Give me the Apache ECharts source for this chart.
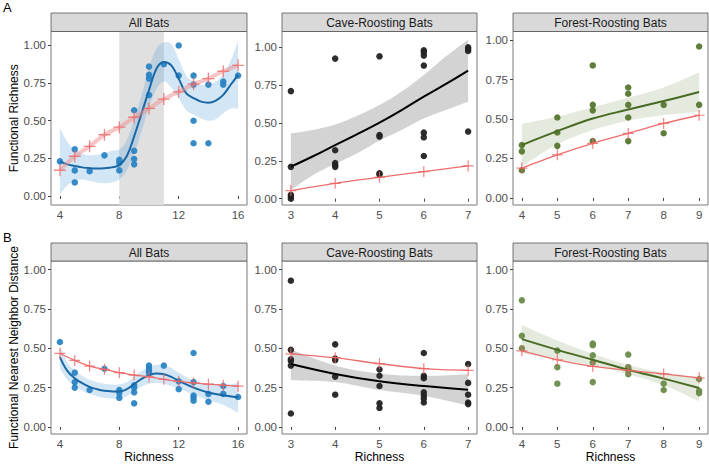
<!DOCTYPE html>
<html><head><meta charset="utf-8">
<script src="https://cdn.jsdelivr.net/npm/echarts@6/dist/echarts.min.js"></script>
<style>html,body{margin:0;padding:0;background:#fff}#c{width:709px;height:464px}</style>
</head><body><div id="c"></div>
<script>
// ---------- text ----------
const stripTitles = ['All Bats', 'Cave-Roosting Bats', 'Forest-Roosting Bats'];
const rowLabels = ['A', 'B'];
const yTitles = ['Functional Richness', 'Functional Nearest Neighbor Distance'];
const xTitle = 'Richness';

// ---------- tick values ----------
const yTicks = [0, 0.25, 0.5, 0.75, 1];
const xTicksAll = [4, 8, 12, 16];
const xTicksCave = [3, 4, 5, 6, 7];
const xTicksForest = [4, 5, 6, 7, 8, 9];

// ---------- A: Functional Richness ----------
// All bats
const a1Points = [[4,0.23],[5,0.31],[5,0.17],[5,0.09],[6,0.165],[7,0.27],[8,0.24],[8,0.22],[8,0.17],[9,0.57],[9,0.30],[9,0.245],[9,0.21],[10,0.86],[10,0.805],[10,0.78],[10,0.67],[11,0.875],[12,1.0],[12,0.80],[13,0.80],[13,0.74],[13,0.50],[13,0.35],[14,0.74],[14,0.35],[15,0.76],[15,0.74],[16,0.80]];
const a1FitX = [4,4.5,5,5.5,6,6.5,7,7.5,8,8.5,9,9.5,10,10.5,11,11.5,12,12.5,13,13.5,14,14.5,15,15.5,16];
const a1Fit  = [0.23,0.21,0.20,0.19,0.185,0.183,0.185,0.19,0.205,0.264,0.396,0.549,0.703,0.846,0.89,0.868,0.78,0.683,0.65,0.627,0.62,0.634,0.672,0.739,0.805];
const a1Lo   = [0.01,0.07,0.10,0.11,0.10,0.09,0.085,0.09,0.11,0.17,0.28,0.43,0.59,0.71,0.76,0.72,0.65,0.57,0.54,0.515,0.50,0.51,0.55,0.58,0.58];
const a1Hi   = [0.45,0.36,0.31,0.28,0.27,0.275,0.285,0.30,0.31,0.37,0.51,0.67,0.85,0.98,1.02,1.01,0.91,0.80,0.76,0.74,0.74,0.76,0.81,0.90,1.03];
const a1NullX = [4,5,6,7,8,9,10,11,12,13,14,15,16];
const a1Null  = [0.171,0.264,0.33,0.407,0.457,0.523,0.582,0.644,0.692,0.743,0.78,0.829,0.868];
const a1ShadeRange = [8, 11];
// Cave-roosting
const a2Points = [[3,0.71],[3,0.21],[3,0.025],[3,0.013],[3,0.0],[4,0.925],[4,0.32],[4,0.235],[4,0.22],[4,0.21],[5,0.94],[5,0.42],[5,0.41],[5,0.167],[5,0.16],[6,0.98],[6,0.967],[6,0.945],[6,0.879],[6,0.436],[6,0.405],[6,0.282],[7,1.0],[7,0.989],[7,0.976],[7,0.443]];
const a2FitX = [3,3.5,4,4.5,5,5.5,6,6.5,7];
const a2Fit  = [0.211,0.28,0.354,0.426,0.502,0.585,0.674,0.758,0.846];
const a2Lo   = [0.057,0.156,0.23,0.30,0.383,0.454,0.53,0.586,0.64];
const a2Hi   = [0.43,0.454,0.49,0.548,0.619,0.707,0.817,0.94,1.05];
const a2NullX = [3,4,5,6,7];
const a2Null  = [0.053,0.101,0.141,0.178,0.216];
// Forest-roosting
const a3Points = [[4,0.335],[4,0.295],[4,0.175],[5,0.51],[5,0.415],[5,0.33],[6,0.84],[6,0.59],[6,0.555],[6,0.36],[7,0.70],[7,0.66],[7,0.59],[7,0.51],[7,0.36],[8,0.59],[8,0.41],[9,0.96],[9,0.59]];
const a3FitX = [4,5,6,7,8,9];
const a3Fit  = [0.335,0.423,0.503,0.56,0.614,0.671];
const a3Lo   = [0.20,0.34,0.43,0.49,0.525,0.545];
const a3Hi   = [0.47,0.515,0.575,0.635,0.70,0.797];
const a3NullX = [4,5,6,7,8,9];
const a3Null  = [0.189,0.273,0.346,0.409,0.472,0.524];

// ---------- B: Functional Nearest Neighbor Distance ----------
const b1Points = [[4,0.54],[5,0.345],[5,0.285],[5,0.25],[6,0.235],[7,0.37],[8,0.235],[8,0.215],[8,0.185],[9,0.265],[9,0.25],[9,0.22],[9,0.15],[10,0.39],[10,0.375],[10,0.355],[10,0.345],[11,0.39],[12,0.29],[12,0.24],[13,0.47],[13,0.285],[13,0.20],[13,0.185],[13,0.167],[14,0.21],[14,0.16],[15,0.26],[15,0.21],[16,0.19]];
const b1FitX = [4,4.5,5,5.5,6,6.5,7,7.5,8,8.5,9,9.5,10,10.5,11,11.5,12,13,14,15,16];
const b1Fit  = [0.444,0.356,0.31,0.278,0.255,0.24,0.23,0.226,0.225,0.24,0.272,0.305,0.328,0.339,0.335,0.318,0.293,0.25,0.219,0.202,0.187];
const b1Lo   = [0.37,0.30,0.26,0.23,0.21,0.195,0.185,0.18,0.18,0.195,0.225,0.255,0.275,0.28,0.275,0.26,0.245,0.205,0.17,0.14,0.09];
const b1Hi   = [0.52,0.41,0.36,0.325,0.30,0.285,0.275,0.27,0.27,0.285,0.32,0.355,0.38,0.395,0.395,0.375,0.345,0.295,0.27,0.265,0.28];
const b1NullX = [4,5,6,7,8,9,10,11,12,13,14,15,16];
const b1Null  = [0.467,0.423,0.387,0.366,0.345,0.33,0.318,0.303,0.29,0.28,0.272,0.265,0.259];
const b2Points = [[3,0.93],[3,0.49],[3,0.43],[3,0.42],[3,0.39],[3,0.085],[4,0.525],[4,0.435],[4,0.425],[4,0.32],[4,0.205],[5,0.365],[5,0.325],[5,0.26],[5,0.15],[5,0.12],[6,0.47],[6,0.325],[6,0.31],[6,0.22],[6,0.20],[6,0.18],[6,0.155],[7,0.40],[7,0.28],[7,0.205],[7,0.155],[7,0.145]];
const b2FitX = [3,4,5,6,7];
const b2Fit  = [0.40,0.337,0.29,0.26,0.237];
const b2Lo   = [0.297,0.285,0.235,0.198,0.135];
const b2Hi   = [0.493,0.39,0.339,0.324,0.335];
const b2NullX = [3,4,5,6,7];
const b2Null  = [0.465,0.44,0.402,0.371,0.36];
const b3Points = [[4,0.805],[4,0.58],[4,0.50],[5,0.485],[5,0.38],[5,0.275],[6,0.53],[6,0.52],[6,0.455],[6,0.41],[6,0.285],[7,0.46],[7,0.38],[7,0.37],[7,0.36],[7,0.335],[8,0.275],[8,0.235],[9,0.305],[9,0.23],[9,0.215]];
const b3FitX = [4,5,6,7,8,9];
const b3Fit  = [0.558,0.49,0.427,0.364,0.307,0.248];
const b3Lo   = [0.469,0.43,0.39,0.335,0.265,0.164];
const b3Hi   = [0.648,0.55,0.465,0.395,0.345,0.316];
const b3NullX = [4,5,6,7,8,9];
const b3Null  = [0.484,0.427,0.385,0.36,0.337,0.312];

// ---------- styles / layout ----------
const FONT = '"Liberation Sans", Arial, Helvetica, sans-serif';
const BLUE = {pt:'#2b84c3', line:'#1967a5', band:'rgba(70,150,215,0.24)'};
const BLACK = {pt:'#222222', line:'#000000', band:'rgba(150,150,150,0.42)'};
const GREENA = {pt:'#55772f', line:'#476a23', band:'rgba(120,150,90,0.2)'};
const GREENB = {pt:'#6a8c4a', line:'#476a23', band:'rgba(120,150,90,0.2)'};
const RED = '#ec6d6d';
const CROSS = 'path://M4.45,0H5.55V10H4.45ZM0,4.45H10V5.55H0Z';
const cols = [{left:51, width:196}, {left:282, width:195}, {left:513, width:195}];
const rows = [{strip:13, top:31.5, height:173.5}, {strip:243, top:261, height:174}];
const xRanges = [[3.4,16.6],[2.8,7.2],[3.75,9.25]];
const xTickSets = [xTicksAll, xTicksCave, xTicksForest];
const yRanges = [[[-0.06,1.093],[-0.042,1.104],[-0.045,1.055]], [[-0.045,1.055],[-0.045,1.055],[-0.045,1.055]]];

const panelData = [
  [{pts:a1Points, fx:a1FitX, fit:a1Fit, lo:a1Lo, hi:a1Hi, nx:a1NullX, nul:a1Null, c:BLUE, shade:a1ShadeRange, wide:true},
   {pts:a2Points, fx:a2FitX, fit:a2Fit, lo:a2Lo, hi:a2Hi, nx:a2NullX, nul:a2Null, c:BLACK},
   {pts:a3Points, fx:a3FitX, fit:a3Fit, lo:a3Lo, hi:a3Hi, nx:a3NullX, nul:a3Null, c:GREENA}],
  [{pts:b1Points, fx:b1FitX, fit:b1Fit, lo:b1Lo, hi:b1Hi, nx:b1NullX, nul:b1Null, c:BLUE},
   {pts:b2Points, fx:b2FitX, fit:b2Fit, lo:b2Lo, hi:b2Hi, nx:b2NullX, nul:b2Null, c:BLACK},
   {pts:b3Points, fx:b3FitX, fit:b3Fit, lo:b3Lo, hi:b3Hi, nx:b3NullX, nul:b3Null, c:GREENB}]
];

// smooth a pixel-space polyline (Catmull-Rom rendering only)
function splinePixels(pts, steps) {
  const out = [];
  for (let i = 0; i < pts.length - 1; i++) {
    const p0 = pts[i - 1] || pts[i], p1 = pts[i], p2 = pts[i + 1], p3 = pts[i + 2] || pts[i + 1];
    const c1 = [p1[0] + (p2[0] - p0[0]) / 6, p1[1] + (p2[1] - p0[1]) / 6];
    const c2 = [p2[0] - (p3[0] - p1[0]) / 6, p2[1] - (p3[1] - p1[1]) / 6];
    for (let s = 0; s < steps; s++) {
      const t = s / steps, u = 1 - t;
      out.push([
        u*u*u*p1[0] + 3*u*u*t*c1[0] + 3*u*t*t*c2[0] + t*t*t*p2[0],
        u*u*u*p1[1] + 3*u*u*t*c1[1] + 3*u*t*t*c2[1] + t*t*t*p2[1]
      ]);
    }
  }
  out.push(pts[pts.length - 1]);
  return out;
}

const grid = [], xAxis = [], yAxis = [], series = [], graphic = [];
const zip = (xs, ys) => xs.map((x, i) => [x, ys[i]]);

rows.forEach((r, ri) => {
  graphic.push({type:'text', left: 3, top: ri === 0 ? 1 : 231,
    style:{text: rowLabels[ri], font: '13px ' + FONT, fill:'#000'}});
  cols.forEach((c, ci) => {
    const gi = grid.length;
    const d = panelData[ri][ci];
    grid.push({left:c.left, top:r.top, width:c.width, height:r.height, show:true,
      borderColor:'#7a7a7a', borderWidth:1, backgroundColor:'#fff'});
    graphic.push({type:'rect', shape:{x:c.left, y:r.strip, width:c.width, height:r.top - r.strip},
      style:{fill:'#d9d9d9', stroke:'#555', lineWidth:0.8}, z:10});
    graphic.push({type:'text', x:c.left + c.width/2, y:(r.strip + r.top)/2 + 0.5, z:11,
      style:{text:stripTitles[ci], font:'12px ' + FONT, fill:'#1a1a1a', align:'center', verticalAlign:'middle'}});
    xAxis.push({type:'value', gridIndex:gi, min:xRanges[ci][0], max:xRanges[ci][1],
      axisLine:{show:false}, splitLine:{show:false},
      axisTick:{show:true, length:3, lineStyle:{color:'#444'}, customValues:xTickSets[ci]},
      axisLabel:{show:true, color:'#4d4d4d', fontSize:11.5, fontFamily:FONT, margin:4, customValues:xTickSets[ci]},
      name: ri === 1 ? xTitle : '', nameLocation:'middle', nameGap:17,
      nameTextStyle:{color:'#000', fontSize:12, fontFamily:FONT}});
    yAxis.push({type:'value', gridIndex:gi, min:yRanges[ri][ci][0], max:yRanges[ri][ci][1],
      axisLine:{show:false}, splitLine:{show:false},
      axisTick:{show:true, length:3, lineStyle:{color:'#444'}, customValues:yTicks},
      axisLabel:{show:true, color:'#4d4d4d', fontSize:11.5, fontFamily:FONT, margin:5, customValues:yTicks,
        formatter: v => v.toFixed(2)},
      name: ci === 0 ? yTitles[ri] : '', nameLocation:'middle', nameRotate:90, nameGap:31,
      nameTextStyle:{color:'#000', fontSize:12, fontFamily:FONT}});
    const ax = {xAxisIndex:gi, yAxisIndex:gi};
    if (d.shade) {
      const yr = yRanges[ri][ci];
      series.push(Object.assign({type:'custom', data:[[d.shade[0], d.shade[1]]], z:1, silent:true,
        renderItem: (params, api) => {
          const p0 = api.coord([api.value(0), yr[1]]);
          const p1 = api.coord([api.value(1), yr[0]]);
          return {type:'rect', shape:{x:p0[0], y:p0[1], width:p1[0] - p0[0], height:p1[1] - p0[1]},
            style:{fill:'#e0e0e0'}};
        }}, ax));
    }
    const bandRows = d.fx.map((x, i) => [x, d.lo[i], d.hi[i]]);
    series.push(Object.assign({type:'custom', data:bandRows, z:2, silent:true, clip:true,
      renderItem: (params, api) => {
        if (params.dataIndex !== 0) return null;
        const up = bandRows.map(rw => api.coord([rw[0], rw[2]]));
        const dn = bandRows.map(rw => api.coord([rw[0], rw[1]])).reverse();
        const poly = splinePixels(up, 10).concat(splinePixels(dn, 10));
        return {type:'polygon', shape:{points:poly}, style:{fill:d.c.band}};
      }}, ax));
    series.push(Object.assign({type:'scatter', data:d.pts, symbol:'circle', symbolSize:6.5,
      itemStyle:{color:d.c.pt, opacity:0.95}, z:3}, ax));
    series.push(Object.assign({type:'line', data:zip(d.fx, d.fit), symbol:'none', smooth:0.4,
      lineStyle:{color:d.c.line, width:2}, z:4}, ax));
    if (d.wide) {
      series.push(Object.assign({type:'line', data:zip(d.nx, d.nul), symbol:CROSS, symbolSize:12, smooth:0.3,
        lineStyle:{color:'rgba(240,140,140,0.5)', width:4}, itemStyle:{color:'rgba(236,100,100,0.75)'}, z:5}, ax));
    } else {
      series.push(Object.assign({type:'line', data:zip(d.nx, d.nul), symbol:CROSS, symbolSize:11, smooth:0.3,
        lineStyle:{color:RED, width:1.3}, itemStyle:{color:'rgba(236,100,100,0.8)'}, z:5}, ax));
    }
  });
});

const chart = echarts.init(document.getElementById('c'), null, {renderer:'svg', width:709, height:464});
chart.setOption({
  animation:false,
  backgroundColor:'#fff',
  textStyle:{fontFamily:FONT},
  grid, xAxis, yAxis, series, graphic
});
</script></body></html>
